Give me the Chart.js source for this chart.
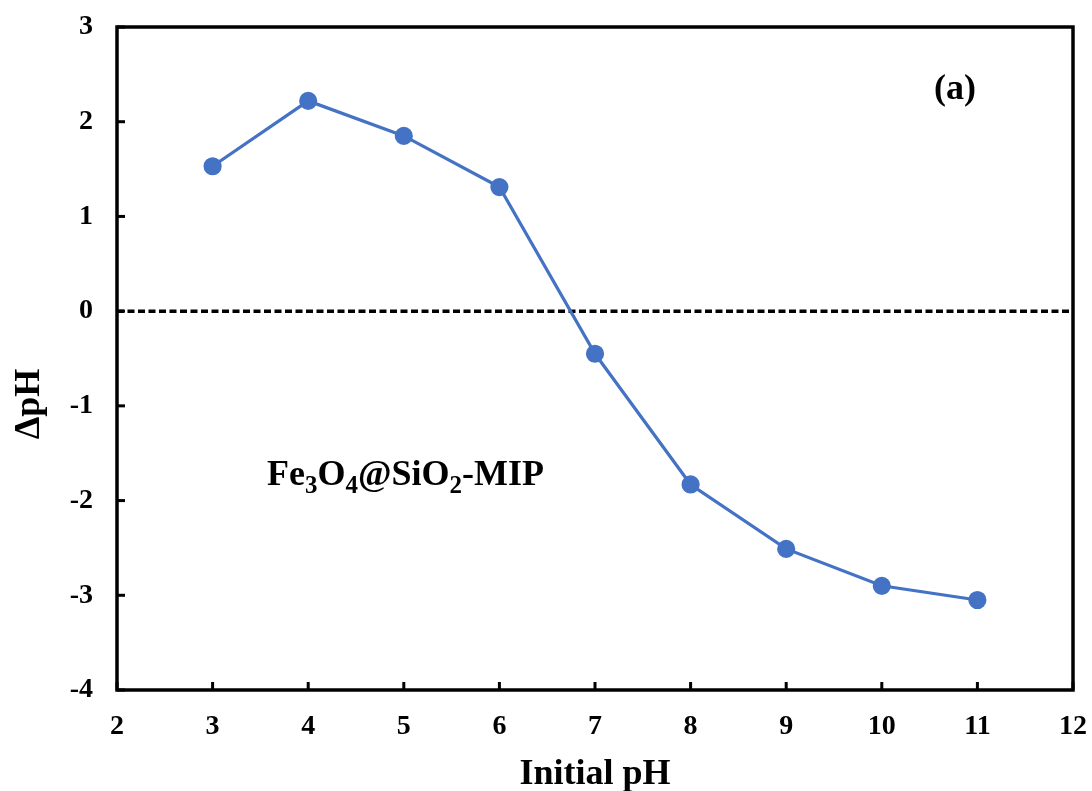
<!DOCTYPE html>
<html>
<head>
<meta charset="utf-8">
<script src="https://cdn.jsdelivr.net/npm/chart.js@4/dist/chart.umd.min.js"></script>
<style>
  html, body { margin: 0; padding: 0; background: #fff; }
  #wrap { width: 1092px; height: 791px; }
</style>
</head>
<body>
<div id="wrap"><canvas id="chart_delta_ph"></canvas></div>
<script>
// data
const initialPH = [3, 4, 5, 6, 7, 8, 9, 10, 11];
const deltaPH = [1.53, 2.22, 1.85, 1.31, -0.45, -1.83, -2.51, -2.90, -3.05];
const zeroLineX = [2, 12];
const zeroLineY = [0, 0];

const xRange = [2, 12];
const yRange = [-4, 3];

const FONT = "'Liberation Serif', 'Times New Roman', serif";
const BLUE = '#4472C4';

// frame, inward tick marks and free text
const framePlugin = {
  id: 'frame',
  afterDraw(chart) {
    let { ctx, chartArea: a, scales: { x, y } } = chart;
    ctx.save();
    ctx.strokeStyle = '#000';
    ctx.lineWidth = 3.5;
    ctx.strokeRect(a.left, a.top, a.right - a.left, a.bottom - a.top);

    ctx.lineWidth = 3;
    x.ticks.forEach(t => {
      let px = x.getPixelForValue(t.value);
      ctx.beginPath();
      ctx.moveTo(px, a.bottom);
      ctx.lineTo(px, a.bottom - 8);
      ctx.stroke();
    });
    y.ticks.forEach(t => {
      let py = y.getPixelForValue(t.value);
      ctx.beginPath();
      ctx.moveTo(a.left, py);
      ctx.lineTo(a.left + 8, py);
      ctx.stroke();
    });

    ctx.fillStyle = '#000';

    // y title
    ctx.save();
    ctx.translate(30, 404);
    ctx.rotate(-Math.PI / 2);
    ctx.font = 'bold 36px ' + FONT;
    ctx.textAlign = 'center';
    ctx.textBaseline = 'middle';
    ctx.fillText('ΔpH', 0, 0);
    ctx.restore();

    // panel label
    ctx.font = 'bold 36px ' + FONT;
    ctx.textAlign = 'center';
    ctx.textBaseline = 'middle';
    ctx.fillText('(a)', 955, 90);

    // material label with subscripts
    let parts = [['Fe', 0], ['3', 1], ['O', 0], ['4', 1], ['@SiO', 0], ['2', 1], ['-MIP', 0]];
    let cx = 267, base = 485;
    ctx.textAlign = 'left';
    ctx.textBaseline = 'alphabetic';
    parts.forEach(([s, sub]) => {
      ctx.font = sub ? 'bold 25px ' + FONT : 'bold 36px ' + FONT;
      ctx.fillText(s, cx, sub ? base + 8 : base);
      cx += ctx.measureText(s).width;
    });
    ctx.restore();
  }
};

let data = {
  datasets: [
    {
      data: initialPH.map((v, i) => ({ x: v, y: deltaPH[i] })),
      borderColor: BLUE,
      backgroundColor: BLUE,
      borderWidth: 3.2,
      pointRadius: 7.5,
      pointHoverRadius: 7.5,
      showLine: true,
      order: 1
    },
    {
      data: zeroLineX.map((v, i) => ({ x: v, y: zeroLineY[i] })),
      borderColor: '#000',
      borderWidth: 3.5,
      borderDash: [7, 3.5],
      pointRadius: 0,
      showLine: true,
      order: 2
    }
  ]
};

let options = {
  responsive: true,
  maintainAspectRatio: false,
  animation: false,
  layout: { padding: { top: 27, right: 19, left: 0, bottom: 0 } },
  plugins: {
    legend: { display: false },
    tooltip: { enabled: false }
  },
  scales: {
    x: {
      type: 'linear',
      min: xRange[0],
      max: xRange[1],
      afterFit: scale => {
        scale.height = 101;
        scale.paddingLeft = 0;
        scale.paddingRight = 0;
      },
      grid: { display: false, drawTicks: false },
      border: { display: false },
      ticks: {
        stepSize: 1,
        padding: 20,
        color: '#000',
        font: { family: FONT, size: 28, weight: 'bold' }
      },
      title: {
        display: true,
        text: 'Initial pH',
        color: '#000',
        padding: { top: 0, bottom: -5 },
        font: { family: FONT, size: 36, weight: 'bold' }
      }
    },
    y: {
      type: 'linear',
      min: yRange[0],
      max: yRange[1],
      afterFit: scale => {
        scale.width = 117;
        scale.paddingTop = 0;
        scale.paddingBottom = 0;
      },
      grid: { display: false, drawTicks: false },
      border: { display: false },
      ticks: {
        stepSize: 1,
        padding: 24,
        color: '#000',
        font: { family: FONT, size: 28, weight: 'bold' }
      }
    }
  }
};

new Chart('chart_delta_ph', { type: 'scatter', plugins: [framePlugin], data, options });
</script>
</body>
</html>
